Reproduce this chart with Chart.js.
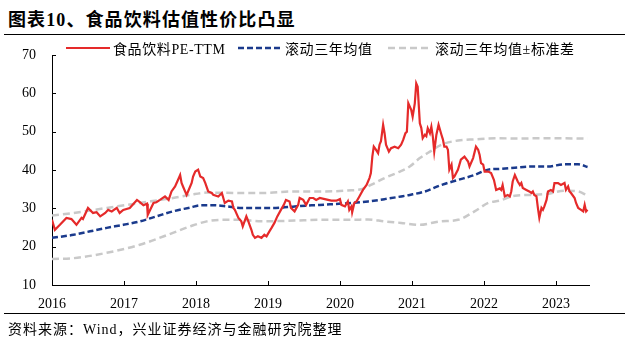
<!DOCTYPE html>
<html>
<head>
<meta charset="utf-8">
<script src="https://cdn.jsdelivr.net/npm/chart.js@4.4.0/dist/chart.umd.min.js"></script>
<style>
  body { margin: 0; background: #fff; }
  #wrap { position: relative; width: 630px; height: 340px; overflow: hidden; }
  .title { position: absolute; left: 8px; top: 5px; font: bold 18px "Liberation Serif", "Noto Sans CJK SC"; letter-spacing: 1.1px; color: #000; white-space: nowrap; }
  .rule { position: absolute; left: 4px; width: 621px; height: 0; border-top: 1.5px solid #000; }
  .src { position: absolute; left: 8px; top: 318px; font: 14px "Liberation Serif", "Noto Sans CJK SC"; letter-spacing: 1px; color: #000; white-space: nowrap; }
  .leg { position: absolute; top: 40px; height: 16px; display: flex; align-items: center; font: 14px "Liberation Serif", "Noto Sans CJK SC"; letter-spacing: 0.6px; color: #000; white-space: nowrap; }
  .leg svg { margin-right: 3px; }
  canvas { position: absolute; left: 0; top: 0; }
</style>
</head>
<body>
<div id="wrap">
  <div class="title">图表10、食品饮料估值性价比凸显</div>
  <div class="rule" style="top:34px"></div>
  <canvas id="canvas" width="630" height="340"></canvas>
  <div id="legend"></div>
  <div class="rule" style="top:313px"></div>
  <div class="src">资料来源：Wind，兴业证券经济与金融研究院整理</div>
</div>
<script>
// x values are decimal years
var yearTicks = [2016, 2017, 2018, 2019, 2020, 2021, 2022, 2023];
var valueTicks = [10, 20, 30, 40, 50, 60, 70];

var seriesNames = ["食品饮料PE-TTM", "滚动三年均值", "滚动三年均值±标准差"];

var peX = [2016.00,2016.04,2016.11,2016.20,2016.27,2016.34,2016.41,2016.43,2016.50,2016.57,2016.62,2016.67,2016.74,2016.78,2016.83,2016.90,2016.94,2016.99,
  2017.08,2017.18,2017.22,2017.27,2017.32,2017.33,2017.41,2017.45,2017.50,2017.57,2017.62,2017.66,2017.71,2017.75,2017.78,2017.80,2017.82,2017.87,2017.89,2017.94,2017.96,2017.99,
  2018.03,2018.06,2018.10,2018.13,2018.17,2018.22,2018.24,2018.31,2018.36,2018.40,2018.45,2018.50,2018.52,2018.54,2018.59,
  2018.63,2018.65,2018.70,2018.72,2018.77,2018.79,2018.82,2018.86,2018.91,2018.95,2018.98,
  2019.02,2019.05,2019.09,2019.13,2019.18,2019.22,2019.25,2019.30,2019.32,2019.37,2019.42,2019.44,2019.49,2019.53,2019.58,2019.63,2019.67,2019.72,
  2019.79,2019.88,2019.95,
  2020.00,2020.02,2020.07,2020.11,2020.13,2020.16,2020.17,2020.20,2020.23,2020.27,2020.32,2020.37,2020.41,2020.43,2020.45,2020.47,2020.50,2020.53,2020.55,2020.57,2020.60,2020.62,2020.64,2020.68,2020.71,2020.76,2020.81,2020.85,2020.88,2020.91,2020.93,2020.95,
  2020.99,
  2021.01,2021.04,2021.06,2021.08,2021.11,2021.13,2021.15,2021.18,2021.20,2021.22,2021.25,2021.27,2021.29,2021.31,2021.34,2021.37,2021.41,2021.43,2021.45,2021.48,2021.50,2021.52,2021.55,2021.57,2021.59,2021.64,2021.68,2021.73,2021.78,2021.80,2021.85,2021.89,2021.92,2021.94,2021.96,2021.99,
  2022.01,2022.06,2022.10,2022.14,2022.17,2022.22,
  2022.24,2022.26,2022.29,2022.33,2022.36,2022.38,2022.40,2022.43,2022.47,2022.50,2022.52,2022.54,2022.59,2022.63,2022.66,2022.68,2022.70,2022.73,2022.75,2022.77,2022.80,2022.82,2022.84,2022.87,2022.89,2022.93,2022.96,2022.98,
  2023.03,2023.07,2023.12,2023.14,2023.17,2023.19,2023.21,2023.26,2023.28,2023.31,2023.35,2023.38,2023.40,2023.42,2023.44];
var peY = [27.0,24.4,25.7,27.5,27.2,25.7,27.5,27.2,30.1,28.8,29.0,27.9,28.8,29.6,29.2,30.1,28.8,29.6,
  30.1,32.2,31.6,30.8,31.2,28.3,31.4,31.6,32.2,33.1,32.2,34.4,35.7,37.4,38.7,36.6,35.7,33.5,34.4,36.6,38.3,39.6,
  40.1,38.3,37.9,36.6,34.4,34.0,33.5,33.1,34.0,31.4,32.0,31.8,30.1,29.6,27.5,
  26.6,25.3,27.9,27.0,24.4,23.1,22.3,22.7,22.3,23.1,22.7,
  24.0,24.9,26.2,27.9,29.6,30.9,32.2,31.8,30.1,29.2,30.9,32.7,32.2,30.9,32.7,32.7,32.2,32.7,
  32.4,32.0,32.0,
  32.4,30.9,30.5,31.8,29.6,30.5,29.0,31.4,31.8,33.1,34.8,36.1,37.9,39.2,43.5,46.1,45.3,44.4,46.6,47.5,51.8,49.6,46.6,44.8,45.7,46.1,45.7,46.6,47.9,49.6,50.0,57.4,
  55.7,
  53.9,57.4,62.6,61.7,52.2,51.0,48.3,49.2,48.8,50.9,49.6,51.3,48.8,44.8,49.2,51.8,49.2,48.0,46.1,46.1,45.3,40.1,41.4,37.9,38.3,40.1,42.7,43.5,42.2,40.9,43.1,46.1,45.3,44.0,41.8,41.4,
  39.6,39.6,39.2,37.4,34.8,35.2,
  34.8,36.1,33.1,33.5,33.1,34.4,37.0,38.7,37.0,36.1,36.6,35.3,34.8,34.4,34.0,34.4,33.5,33.1,30.1,27.5,30.1,29.6,30.5,32.2,34.4,34.8,34.4,36.6,
  36.6,36.1,36.6,34.8,35.7,34.4,34.0,32.7,31.4,30.1,29.6,29.2,30.9,29.2,29.6];

var avgX = [2016.00,2016.30,2016.53,2016.76,2016.99,2017.22,2017.45,2017.68,2017.92,2018.06,2018.24,2018.43,2018.61,2018.86,2019.11,2019.37,2019.72,
  2020.16,2020.39,2020.62,2020.85,2020.97,2021.18,2021.41,2021.64,2021.87,2022.06,2022.22,2022.43,2022.66,2022.89,2023.12,2023.31,2023.44];
var avgY = [22.3,23.1,24.0,24.9,25.7,26.6,27.9,29.2,30.2,30.8,30.8,30.5,30.1,30.1,30.1,30.5,30.9,
  31.4,31.8,32.4,33.1,33.5,34.4,36.1,37.4,38.7,40.1,40.3,40.6,40.9,40.9,41.5,41.5,40.8];

var upX = [2016.00,2016.30,2016.76,2017.22,2017.68,2017.92,2018.15,2018.61,2018.91,2019.37,2019.72,2020.16,2020.30,2020.43,2020.62,2020.81,2020.97,
  2021.11,2021.25,2021.41,2021.64,2021.87,2022.19,2022.43,2022.89,2023.44];
var upY = [28.1,28.8,30.1,31.4,32.7,33.5,34.1,34.0,34.0,34.4,34.4,34.7,35.0,36.1,37.9,39.4,40.9,
  43.1,44.8,46.6,47.7,48.0,48.3,48.2,48.3,48.2];

var lowX = [2016.00,2016.30,2016.76,2017.22,2017.68,2017.92,2018.15,2018.38,2018.61,2018.91,2019.37,2019.72,2020.16,2020.39,2020.62,2020.85,
  2021.11,2021.39,2021.64,2021.87,2022.06,2022.22,2022.43,2022.66,2022.89,2023.12,2023.31,2023.44];
var lowY = [16.8,17.0,18.4,20.5,23.6,25.3,26.6,27.0,27.0,26.6,26.8,27.0,27.0,27.1,26.6,26.2,
  25.7,26.6,27.0,29.2,31.4,32.0,33.3,33.5,33.8,34.6,34.4,33.3];

function pts(xs, ys) {
  return xs.map(function(x, i) { return {x: x, y: ys[i]}; });
}

var red = '#E52A2A';
var navy = '#1A3A8C';
var grey = '#C9C9C9';
var labelFont = {family: '"Liberation Serif", "Noto Sans CJK SC"', size: 14};

// inward tick marks like the original
var innerTicks = {
  id: 'innerTicks',
  afterDraw: function(chart) {
    var ctx = chart.ctx, a = chart.chartArea;
    var xs = chart.scales.x, ys = chart.scales.y;
    ctx.save();
    ctx.strokeStyle = '#000';
    ctx.lineWidth = 1;
    ctx.beginPath();
    yearTicks.forEach(function(v) {
      var px = Math.round(xs.getPixelForValue(v)) + 0.5;
      ctx.moveTo(px, a.bottom); ctx.lineTo(px, a.bottom - 4);
    });
    valueTicks.forEach(function(v) {
      var py = Math.round(ys.getPixelForValue(v)) + 0.5;
      ctx.moveTo(a.left, py); ctx.lineTo(a.left + 4, py);
    });
    ctx.stroke();
    ctx.restore();
  }
};

var chart = new Chart(document.getElementById('canvas'), {
  type: 'line',
  data: {
    datasets: [{
      label: seriesNames[0],
      data: pts(peX, peY),
      borderColor: red,
      borderWidth: 2.2,
      pointRadius: 0,
      tension: 0
    }, {
      label: seriesNames[1],
      data: pts(avgX, avgY),
      borderColor: navy,
      borderWidth: 2.5,
      borderDash: [6, 3],
      pointRadius: 0,
      cubicInterpolationMode: 'monotone'
    }, {
      label: seriesNames[2],
      data: pts(upX, upY),
      borderColor: grey,
      borderWidth: 2.5,
      borderDash: [7, 4],
      pointRadius: 0,
      cubicInterpolationMode: 'monotone'
    }, {
      label: seriesNames[2],
      data: pts(lowX, lowY),
      borderColor: grey,
      borderWidth: 2.5,
      borderDash: [7, 4],
      pointRadius: 0,
      cubicInterpolationMode: 'monotone'
    }]
  },
  options: {
    responsive: false,
    animation: false,
    layout: {padding: {top: 55, right: 41, left: 0, bottom: 0}},
    plugins: {legend: {display: false}, tooltip: {enabled: false}},
    scales: {
      x: {
        type: 'linear',
        min: 2016,
        max: 2023.46,
        grid: {display: false},
        border: {display: true, color: '#000', width: 1},
        afterBuildTicks: function(s) { s.ticks = yearTicks.map(function(v) { return {value: v}; }); },
        afterFit: function(s) { s.height = 55; },
        ticks: {
          autoSkip: false, maxRotation: 0, padding: 3, color: '#000', font: labelFont,
          callback: function(v) { return String(v); }
        }
      },
      y: {
        min: 10,
        max: 70,
        grid: {display: false},
        border: {display: true, color: '#000', width: 1},
        afterBuildTicks: function(s) { s.ticks = valueTicks.map(function(v) { return {value: v}; }); },
        afterFit: function(s) { s.width = 52; },
        ticks: {padding: 8, color: '#000', font: labelFont}
      }
    }
  },
  plugins: [innerTicks]
});

// legend in html, styles taken from the datasets
var legendLeft = [66, 238, 388];
var legend = document.getElementById('legend');
chart.data.datasets.slice(0, 3).forEach(function(ds, i) {
  var item = document.createElement('div');
  item.className = 'leg';
  item.style.left = legendLeft[i] + 'px';
  var dash = ds.borderDash ? ds.borderDash.join(',') : 'none';
  item.innerHTML = '<svg width="44" height="6"><line x1="0" y1="3" x2="44" y2="3" stroke="' + ds.borderColor +
    '" stroke-width="' + ds.borderWidth + '" stroke-dasharray="' + dash + '"/></svg><span>' + ds.label + '</span>';
  legend.appendChild(item);
});
</script>
</body>
</html>
